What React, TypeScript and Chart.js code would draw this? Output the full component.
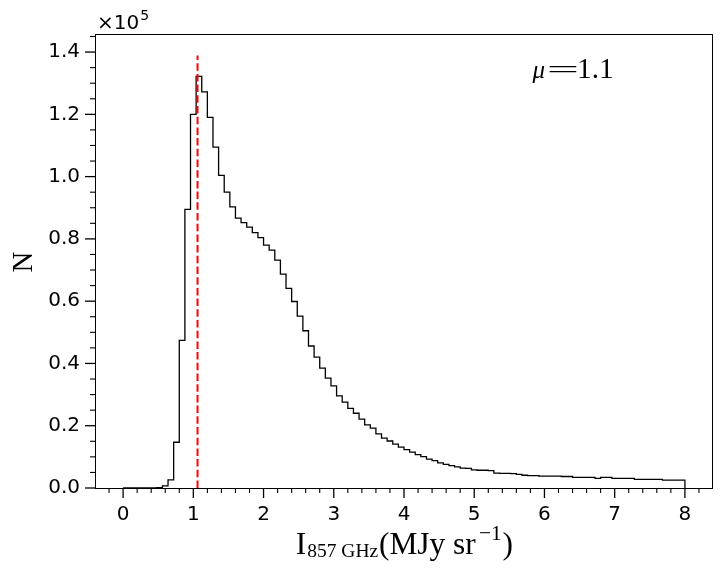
import React, { useEffect, useRef } from 'react';
import { Chart, registerables } from 'chart.js';

Chart.register(...registerables);

// Histogram: 100 bins of width 0.08 starting at 0, counts in units of 1e5
const binStart = 0;
const binWidth = 0.08;
const counts = [
  0, 0, 0, 0, 0, 0, 0.001, 0.007, 0.026, 0.147,
  0.474, 0.895, 1.2, 1.322, 1.272, 1.19, 1.095, 1.004, 0.95, 0.903,
  0.867, 0.852, 0.838, 0.82, 0.804, 0.78, 0.764, 0.732, 0.687, 0.641,
  0.599, 0.552, 0.505, 0.456, 0.42, 0.385, 0.353, 0.328, 0.296, 0.276,
  0.256, 0.24, 0.221, 0.203, 0.192, 0.174, 0.16, 0.151, 0.141, 0.131,
  0.123, 0.115, 0.107, 0.101, 0.093, 0.088, 0.081, 0.076, 0.072, 0.068,
  0.064, 0.063, 0.058, 0.057, 0.057, 0.056, 0.048, 0.047, 0.047, 0.046,
  0.044, 0.041, 0.040, 0.040, 0.038, 0.038, 0.038, 0.038, 0.037, 0.037,
  0.034, 0.034, 0.034, 0.034, 0.031, 0.034, 0.034, 0.031, 0.031, 0.031,
  0.031, 0.028, 0.028, 0.028, 0.028, 0.028, 0.025, 0.025, 0.025, 0.025,
];
const yScale = 1e5;
const meanValue = 1.06;
const meanLineTop = 1.389;
const meanLabel = '1.1';

const xMin = -0.4;
const xMax = 8.4;
const yMax = 1.458;
const xTickValues = [0, 1, 2, 3, 4, 5, 6, 7, 8];
const yTickValues = [0, 0.2, 0.4, 0.6, 0.8, 1.0, 1.2, 1.4];
const xMinorTicks = [-0.2, 0.2, 0.4, 0.6, 0.8, 1.2, 1.4, 1.6, 1.8, 2.2, 2.4, 2.6, 2.8, 3.2, 3.4, 3.6, 3.8, 4.2, 4.4, 4.6, 4.8, 5.2, 5.4, 5.6, 5.8, 6.2, 6.4, 6.6, 6.8, 7.2, 7.4, 7.6, 7.8, 8.2];
const yMinorTicks = [0.05, 0.1, 0.15, 0.25, 0.3, 0.35, 0.45, 0.5, 0.55, 0.65, 0.7, 0.75, 0.85, 0.9, 0.95, 1.05, 1.1, 1.15, 1.25, 1.3, 1.35, 1.45];

const SERIF = '"Liberation Serif", "DejaVu Serif", serif';
const SANS = '"DejaVu Sans", sans-serif';

// draw text so that its visible left edge is at `left`
function drawLeft(ctx: CanvasRenderingContext2D, text: string, left: number, baseline: number) {
  const m = ctx.measureText(text);
  ctx.fillText(text, left + m.actualBoundingBoxLeft, baseline);
}
// choose a font size so that the visible width of text equals `width`
function fitFont(ctx: CanvasRenderingContext2D, text: string, width: number, style: string, base: number) {
  ctx.font = `${style}${base}px ${SERIF}`;
  const m = ctx.measureText(text);
  const w = m.actualBoundingBoxLeft + m.actualBoundingBoxRight;
  const size = (base * width) / w;
  ctx.font = `${style}${size}px ${SERIF}`;
  return size;
}

const decorPlugin = {
  id: 'decor',
  afterDraw(chart: any) {
    const { ctx, chartArea: a, scales } = chart;
    const xs = scales.x;
    const ys = scales.y;
    ctx.save();
    ctx.strokeStyle = '#000';
    // spines
    ctx.lineWidth = 1;
    ctx.strokeRect(a.left + 0.5, a.top + 0.5, a.right - a.left - 1, a.bottom - a.top);
    // ticks
    const drawX = (v: number, len: number, w: number) => {
      const p = xs.getPixelForValue(v);
      ctx.lineWidth = w;
      ctx.beginPath();
      ctx.moveTo(p, a.bottom);
      ctx.lineTo(p, a.bottom + len);
      ctx.stroke();
    };
    const drawY = (v: number, len: number, w: number) => {
      const p = ys.getPixelForValue(v * yScale);
      ctx.lineWidth = w;
      ctx.beginPath();
      ctx.moveTo(a.left, p);
      ctx.lineTo(a.left - len, p);
      ctx.stroke();
    };
    xTickValues.forEach((v) => drawX(v, 10, 1.3));
    xMinorTicks.forEach((v) => drawX(v, 5, 1.1));
    yTickValues.forEach((v) => drawY(v, 10, 1.3));
    yMinorTicks.forEach((v) => drawY(v, 5, 1.1));

    ctx.fillStyle = '#000';
    ctx.textBaseline = 'alphabetic';
    ctx.textAlign = 'left';
    // offset text x10^5
    ctx.font = `20px ${SANS}`;
    ctx.fillText('\u00d710', 97, 29);
    const w10 = ctx.measureText('\u00d710').width;
    ctx.font = `14px ${SANS}`;
    ctx.fillText('5', 97 + w10 + 1, 20);

    // mu annotation
    ctx.font = `italic 25px ${SERIF}`;
    drawLeft(ctx, '\u03bc', 531.5, 78.3);
    fitFont(ctx, meanLabel, 32.5, '', 25);
    drawLeft(ctx, meanLabel, 579, 78.3);
    // wide equals sign
    ctx.font = `25px ${SERIF}`;
    {
      const m = ctx.measureText('=');
      const w = m.actualBoundingBoxLeft + m.actualBoundingBoxRight;
      const sx = 27.5 / w;
      ctx.save();
      ctx.translate(549, 78.3);
      ctx.scale(sx, 1);
      ctx.fillText('=', m.actualBoundingBoxLeft, 0);
      ctx.restore();
    }

    // x label
    const mainSize = fitFont(ctx, '(MJy sr', 96.5, '', 31);
    drawLeft(ctx, 'I', 296.7, 554);
    drawLeft(ctx, '(MJy sr', 380, 554);
    drawLeft(ctx, ')', 503.5, 554);
    fitFont(ctx, '857 GHz', 71, '', 20);
    drawLeft(ctx, '857 GHz', 307.3, 557.3);
    ctx.font = `${mainSize * 0.68}px ${SERIF}`;
    drawLeft(ctx, '\u22121', 480, 540);

    // y label
    ctx.save();
    ctx.translate(32, 262);
    ctx.rotate(-Math.PI / 2);
    ctx.textAlign = 'center';
    ctx.font = `29px ${SERIF}`;
    ctx.fillText('N', 0, 0);
    ctx.restore();

    ctx.restore();
  },
};

export default function App() {
  const ref = useRef<HTMLCanvasElement>(null);
  useEffect(() => {
    const canvas = ref.current;
    if (!canvas) return;
    const histPoints: { x: number; y: number }[] = counts.map((c, i) => ({
      x: binStart + i * binWidth,
      y: c * yScale,
    }));
    const lastEdge = binStart + counts.length * binWidth;
    histPoints.push({ x: lastEdge, y: counts[counts.length - 1] * yScale });
    histPoints.push({ x: lastEdge, y: 0 });

    const chart = new Chart(canvas, {
      type: 'line',
      data: {
        datasets: [
          {
            data: histPoints,
            borderColor: '#000',
            borderWidth: 1.3,
            stepped: 'before',
            pointRadius: 0,
            fill: false,
            order: 2,
          } as any,
          {
            data: [
              { x: meanValue, y: 0 },
              { x: meanValue, y: meanLineTop * yScale },
            ],
            borderColor: '#ff0000',
            borderWidth: 2,
            borderDash: [7.5, 3.2],
            pointRadius: 0,
            fill: false,
            order: 1,
          },
        ],
      },
      options: {
        responsive: false,
        animation: false,
        devicePixelRatio: 1,
        parsing: false as any,
        layout: { padding: { left: 0, top: 34, right: 11, bottom: 0 } },
        plugins: { legend: { display: false }, tooltip: { enabled: false } },
        scales: {
          x: {
            type: 'linear',
            min: xMin,
            max: xMax,
            grid: { display: false, drawTicks: false },
            border: { display: false },
            afterBuildTicks: (s: any) => {
              s.ticks = xTickValues.map((v) => ({ value: v }));
            },
            afterFit: (s: any) => {
              s.height = 88;
            },
            ticks: {
              color: '#000',
              font: { family: SANS, size: 20 },
              padding: 15,
              maxRotation: 0,
              autoSkip: false,
              callback: (v: any) => String(v),
            },
          },
          y: {
            type: 'linear',
            min: 0,
            max: yMax * yScale,
            grid: { display: false, drawTicks: false },
            border: { display: false },
            afterBuildTicks: (s: any) => {
              s.ticks = yTickValues.map((v) => ({ value: v * yScale }));
            },
            afterFit: (s: any) => {
              s.width = 95;
            },
            ticks: {
              color: '#000',
              font: { family: SANS, size: 20 },
              padding: 15,
              autoSkip: false,
              callback: (v: any) => (Number(v) / yScale).toFixed(1),
            },
          },
        },
      },
      plugins: [decorPlugin],
    });
    return () => chart.destroy();
  }, []);
  return (
    <div style={{ position: 'fixed', left: 0, top: 0, width: 724, height: 576, background: '#fff' }}>
      <canvas ref={ref} width={724} height={576} style={{ display: 'block', width: 724, height: 576 }} />
    </div>
  );
}
